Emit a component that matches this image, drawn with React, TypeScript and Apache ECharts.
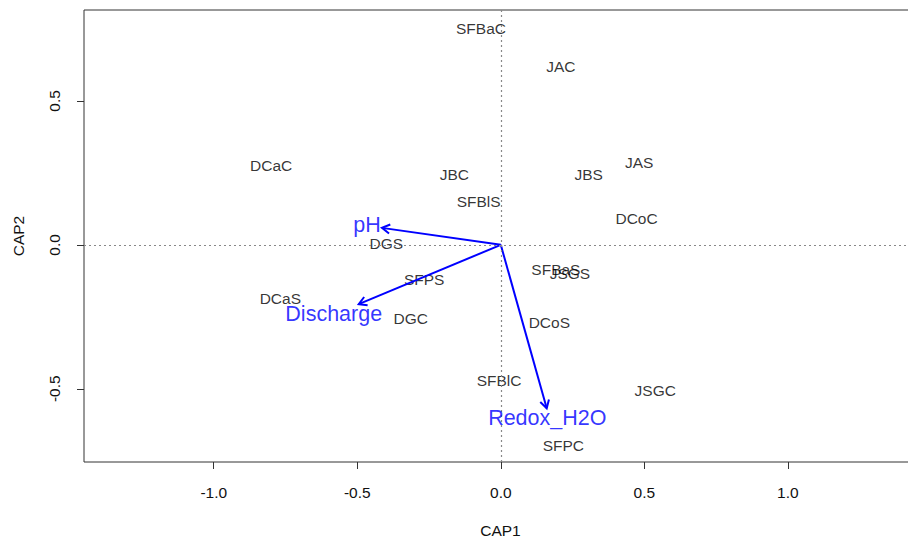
import React, { useEffect, useRef } from "react";
import * as echarts from "echarts";

const siteNames = ["SFBaC","JAC","DCaC","JBC","JBS","JAS","SFBlS","DCoC","DGS","SFPS","SFBaS","JSGS","DCaS","DGC","DCoS","SFBlC","JSGC","SFPC"];
const siteCAP1 = [-0.069, 0.209, -0.800, -0.162, 0.306, 0.482, -0.077, 0.473, -0.399, -0.267, 0.192, 0.241, -0.768, -0.314, 0.169, -0.006, 0.538, 0.218];
const siteCAP2 = [0.752, 0.619, 0.277, 0.243, 0.243, 0.287, 0.150, 0.092, 0.003, -0.122, -0.087, -0.101, -0.186, -0.255, -0.269, -0.472, -0.505, -0.698];

const envNames = ["pH", "Discharge", "Redox_H2O"];
const envArrowCAP1 = [-0.414, -0.495, 0.160];
const envArrowCAP2 = [0.059, -0.206, -0.568];
const envLabelCAP1 = [-0.466, -0.582, 0.162];
const envLabelCAP2 = [0.069, -0.240, -0.603];

const tickValues = [-1, -0.5, 0, 0.5, 1];
const yTickValues = [-0.5, 0, 0.5];

const FONT = "'Liberation Sans', Arial, Helvetica, sans-serif";

export default function App() {
  const ref = useRef<HTMLDivElement>(null);
  useEffect(() => {
    if (!ref.current) return;
    const chart = echarts.init(ref.current, undefined, { renderer: "svg" });
    const siteData = siteNames.map((n, i) => ({ name: n, value: [siteCAP1[i], siteCAP2[i]] }));
    const envLabelData = envNames.map((n, i) => ({ name: n, value: [envLabelCAP1[i], envLabelCAP2[i]] }));
    const arrowData = envNames.map((n, i) => ({ name: n, value: [envArrowCAP1[i], envArrowCAP2[i]] }));

    chart.setOption({
      animation: false,
      backgroundColor: "#ffffff",
      grid: {
        left: 84, top: 10, width: 833, height: 452,
        outerBoundsMode: "none", containLabel: false,
        show: true, borderColor: "#333", borderWidth: 1, backgroundColor: "transparent",
      },
      xAxis: {
        type: "value", min: -1.452, max: 1.45,
        splitLine: { show: false },
        axisLine: { show: false, onZero: false },
        axisTick: { show: true, inside: false, customValues: tickValues, length: 7, lineStyle: { color: "#333" } },
        axisLabel: {
          customValues: tickValues, margin: 22, fontSize: 15.5, color: "#111", fontFamily: FONT,
          formatter: (v: number) => v.toFixed(1),
        },
        name: "CAP1", nameLocation: "middle", nameGap: 60,
        nameTextStyle: { fontSize: 15.5, color: "#111", fontFamily: FONT },
      },
      yAxis: {
        type: "value", min: -0.7545, max: 0.816,
        splitLine: { show: false },
        axisLine: { show: false, onZero: false },
        axisTick: { show: true, inside: false, customValues: yTickValues, length: 7, lineStyle: { color: "#333" } },
        axisLabel: {
          customValues: yTickValues, margin: 22, fontSize: 15.5, color: "#111", fontFamily: FONT, rotate: 90,
          formatter: (v: number) => v.toFixed(1),
        },
        name: "CAP2", nameLocation: "middle", nameGap: 58, nameRotate: 90,
        nameTextStyle: { fontSize: 15.5, color: "#111", fontFamily: FONT },
      },
      series: [
        {
          type: "scatter",
          data: siteData,
          symbolSize: 0,
          label: {
            show: true, position: "inside", formatter: "{b}",
            fontSize: 15.5, color: "#000", fontFamily: FONT,
          },
          markLine: {
            silent: true, symbol: "none",
            label: { show: false },
            lineStyle: { type: [2, 3], color: "#888", width: 1.2 },
            data: [{ xAxis: 0 }, { yAxis: 0 }],
          },
          z: 3,
        },
        {
          type: "custom",
          data: arrowData,
          renderItem: (params: any, api: any) => {
            const p0 = api.coord([0, 0]);
            const p1 = api.coord([api.value(0), api.value(1)]);
            const ang = Math.atan2(p1[1] - p0[1], p1[0] - p0[0]);
            const L = 9, a = Math.PI / 6;
            const h1 = [p1[0] - L * Math.cos(ang - a), p1[1] - L * Math.sin(ang - a)];
            const h2 = [p1[0] - L * Math.cos(ang + a), p1[1] - L * Math.sin(ang + a)];
            return {
              type: "group",
              children: [
                { type: "line", shape: { x1: p0[0], y1: p0[1], x2: p1[0], y2: p1[1] }, style: { stroke: "#0000ff", lineWidth: 2 } },
                { type: "polyline", shape: { points: [h1, p1, h2] }, style: { stroke: "#0000ff", lineWidth: 2, fill: "none" } },
              ],
            };
          },
          z: 4,
        },
        {
          type: "scatter",
          data: envLabelData,
          symbolSize: 0,
          label: {
            show: true, position: "inside", formatter: "{b}",
            fontSize: 21.5, color: "#0000ff", fontFamily: FONT,
          },
          z: 5,
        },
      ],
    });
    return () => chart.dispose();
  }, []);
  return <div ref={ref} style={{ position: "fixed", left: 0, top: 0, width: 908, height: 538 }} />;
}
